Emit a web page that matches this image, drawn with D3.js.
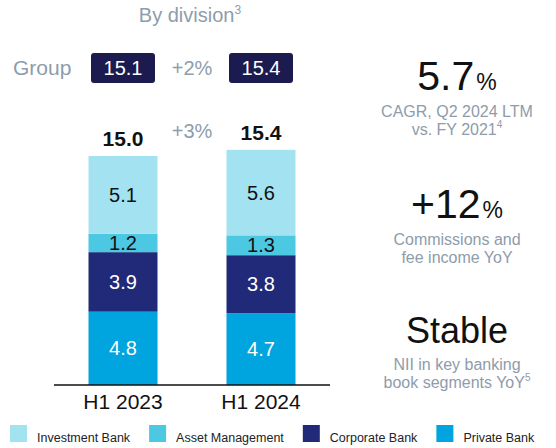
<!DOCTYPE html>
<html>
<head>
<meta charset="utf-8">
<script src="https://cdn.jsdelivr.net/npm/d3@7"></script>
<style>
  body { margin: 0; background: #fff; }
  svg { display: block; font-family: "Liberation Sans", Arial, sans-serif; }
</style>
</head>
<body>
<svg id="chart" width="556" height="448"></svg>
<script>
// data
const periods = ["H1 2023", "H1 2024"];
const divisions = ["Private Bank", "Corporate Bank", "Asset Management", "Investment Bank"];
const privateBank = [4.8, 4.7];
const corporateBank = [3.9, 3.8];
const assetMgmt = [1.2, 1.3];
const investmentBank = [5.1, 5.6];
const divisionTotals = ["15.0", "15.4"];
const groupTotals = ["15.1", "15.4"];
const groupChange = "+2%";
const divisionChange = "+3%";
const legendOrder = ["Investment Bank", "Asset Management", "Corporate Bank", "Private Bank"];

const colors = {
  "Investment Bank": "#a3e2f0",
  "Asset Management": "#4cc8e2",
  "Corporate Bank": "#202a79",
  "Private Bank": "#00a4de",
};
const labelColors = {
  "Investment Bank": "#111",
  "Asset Management": "#111",
  "Corporate Bank": "#fff",
  "Private Bank": "#fff",
};
const gray = "#8e9cab";
const navy = "#1c1b50";

const rows = periods.map((p, i) => ({
  period: p,
  "Private Bank": privateBank[i],
  "Corporate Bank": corporateBank[i],
  "Asset Management": assetMgmt[i],
  "Investment Bank": investmentBank[i],
}));

const svg = d3.select("#chart");

const x = d3.scaleBand()
  .domain(periods)
  .range([54, 330])
  .paddingInner(0.5)
  .paddingOuter(0.25);

const y = d3.scaleLinear()
  .domain([0, 16])
  .range([385, 385 - 16 * 15.27]);

const stack = d3.stack().keys(divisions)(rows);

// bars
const layers = svg.selectAll("g.layer")
  .data(stack)
  .enter().append("g")
  .attr("class", "layer")
  .attr("fill", d => colors[d.key]);

layers.selectAll("rect")
  .data(d => d.map(v => Object.assign(v, { key: d.key })))
  .enter().append("rect")
  .attr("x", d => x(d.data.period))
  .attr("width", x.bandwidth())
  .attr("y", d => y(d[1]))
  .attr("height", d => y(d[0]) - y(d[1]));

layers.selectAll("text")
  .data(d => d)
  .enter().append("text")
  .attr("x", d => x(d.data.period) + x.bandwidth() / 2)
  .attr("y", d => (y(d[0]) + y(d[1])) / 2 + 7)
  .attr("text-anchor", "middle")
  .attr("font-size", 20)
  .attr("fill", d => labelColors[d.key])
  .text(d => d3.format(".1f")(d[1] - d[0]));

// baseline
svg.append("line")
  .attr("x1", 54).attr("x2", 330)
  .attr("y1", y(0)).attr("y2", y(0))
  .attr("stroke", "#111")
  .attr("stroke-width", 1.5);

// category labels
svg.selectAll("text.cat")
  .data(periods)
  .enter().append("text")
  .attr("class", "cat")
  .attr("x", d => x(d) + x.bandwidth() / 2)
  .attr("y", 409)
  .attr("text-anchor", "middle")
  .attr("font-size", 21)
  .attr("fill", "#111")
  .text(d => d);

// division totals
const sums = rows.map(r => d3.sum(divisions, k => r[k]));
svg.selectAll("text.total")
  .data(periods)
  .enter().append("text")
  .attr("class", "total")
  .attr("x", d => x(d) + x.bandwidth() / 2)
  .attr("y", (d, i) => y(sums[i]) - 10)
  .attr("text-anchor", "middle")
  .attr("font-size", 21)
  .attr("font-weight", "bold")
  .attr("fill", "#111")
  .text((d, i) => divisionTotals[i]);

const midX = (x(periods[0]) + x(periods[1]) + x.bandwidth()) / 2;

svg.append("text")
  .attr("x", midX).attr("y", 138)
  .attr("text-anchor", "middle")
  .attr("font-size", 20)
  .attr("fill", gray)
  .text(divisionChange);

// title
const title = svg.append("text")
  .attr("x", midX - 2).attr("y", 22)
  .attr("text-anchor", "middle")
  .attr("font-size", 20)
  .attr("fill", gray)
  .text("By division");
title.append("tspan").attr("font-size", 12).attr("dy", -8).text("3");

// group row
svg.append("text")
  .attr("x", 13).attr("y", 75)
  .attr("font-size", 21)
  .attr("fill", gray)
  .text("Group");

const boxes = svg.selectAll("g.box")
  .data(periods)
  .enter().append("g")
  .attr("class", "box")
  .attr("transform", d => `translate(${x(d) + x.bandwidth() / 2},68)`);

boxes.append("rect")
  .attr("x", -32).attr("y", -15)
  .attr("width", 64).attr("height", 30)
  .attr("rx", 3)
  .attr("fill", navy);

boxes.append("text")
  .attr("y", 7)
  .attr("text-anchor", "middle")
  .attr("font-size", 20)
  .attr("fill", "#fff")
  .text((d, i) => groupTotals[i]);

svg.append("text")
  .attr("x", midX).attr("y", 75)
  .attr("text-anchor", "middle")
  .attr("font-size", 20)
  .attr("fill", gray)
  .text(groupChange);

// right-side KPIs
const kpis = [
  { big: "5.7", unit: "%", size: 41, y: 90, lines: [["CAGR, Q2 2024 LTM", ""], ["vs. FY 2021", "4"]] },
  { big: "+12", unit: "%", size: 41, y: 218, lines: [["Commissions and", ""], ["fee income YoY", ""]] },
  { big: "Stable", unit: "", size: 36, y: 343, lines: [["NII in key banking", ""], ["book segments YoY", "5"]] },
];
const kx = 457;

kpis.forEach(k => {
  const t = svg.append("text")
    .attr("x", kx).attr("y", k.y)
    .attr("text-anchor", "middle")
    .attr("font-size", k.size)
    .attr("fill", "#111")
    .text(k.big);
  if (k.unit) t.append("tspan").attr("font-size", 23).attr("dx", 2).text(k.unit);

  k.lines.forEach((l, j) => {
    const s = svg.append("text")
      .attr("x", kx).attr("y", k.y + 27 + j * 18)
      .attr("text-anchor", "middle")
      .attr("font-size", 16)
      .attr("fill", gray)
      .text(l[0]);
    if (l[1]) s.append("tspan").attr("font-size", 10).attr("dy", -7).text(l[1]);
  });
});

// legend
let lx = 10;
legendOrder.forEach(name => {
  const g = svg.append("g").attr("transform", `translate(${lx},425)`);
  g.append("rect").attr("width", 17).attr("height", 17).attr("fill", colors[name]);
  const t = g.append("text")
    .attr("x", 27).attr("y", 17)
    .attr("font-size", 12.5)
    .attr("fill", "#222")
    .text(name);
  lx += 27 + t.node().getComputedTextLength() + 19;
});
</script>
</body>
</html>
